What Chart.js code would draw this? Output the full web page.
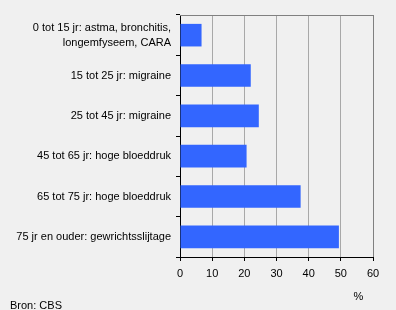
<!DOCTYPE html>
<html><head><meta charset="utf-8">
<script src="https://cdn.jsdelivr.net/npm/chart.js@4"></script>
<style>html,body{margin:0;padding:0;background:#f0f0f0;overflow:hidden}#wrap{width:396px;height:310px}</style>
</head><body><div id="wrap"><canvas id="c" width="396" height="310"></canvas></div>
<script>
const categories = [
  ["0 tot 15 jr: astma, bronchitis,", "longemfyseem, CARA"],
  "15 tot 25 jr: migraine",
  "25 tot 45 jr: migraine",
  "45 tot 65 jr: hoge bloeddruk",
  "65 tot 75 jr: hoge bloeddruk",
  "75 jr en ouder: gewrichtsslijtage"
];
const values = [6.7, 22.0, 24.5, 20.7, 37.5, 49.4];
const xTickValues = [0, 10, 20, 30, 40, 50, 60];
const unitLabel = "%";
const sourceLabel = "Bron: CBS";

const FONT = "'Liberation Sans', Arial, sans-serif";

const framePlugin = {
  id: 'frame',
  beforeDatasetsDraw(chart) {
    const {ctx, chartArea: a} = chart;
    ctx.save();
    ctx.strokeStyle = '#808080';
    ctx.lineWidth = 1;
    ctx.beginPath();
    ctx.moveTo(Math.round(a.left), Math.round(a.top) + 0.5);
    ctx.lineTo(Math.round(a.right) + 0.5, Math.round(a.top) + 0.5);
    ctx.lineTo(Math.round(a.right) + 0.5, Math.round(a.bottom));
    ctx.stroke();
    ctx.restore();
  },
  afterDraw(chart) {
    const {ctx} = chart;
    ctx.save();
    ctx.fillStyle = '#000';
    ctx.font = "11px " + FONT;
    ctx.textBaseline = 'middle';
    ctx.textAlign = 'center';
    ctx.fillText(unitLabel, 358.5, 297);
    ctx.textAlign = 'left';
    ctx.fillText(sourceLabel, 10, 305.5);
    ctx.restore();
  }
};

new Chart(document.getElementById('c'), {
  type: 'bar',
  data: {
    labels: categories,
    datasets: [{
      data: values,
      backgroundColor: '#3366ff',
      borderWidth: 0,
      barPercentage: 0.56,
      categoryPercentage: 1
    }]
  },
  options: {
    indexAxis: 'y',
    responsive: false,
    animation: false,
    devicePixelRatio: 1,
    layout: {padding: {top: 15, right: 23, left: 0, bottom: 0}},
    plugins: {legend: {display: false}, tooltip: {enabled: false}},
    scales: {
      x: {
        type: 'linear',
        min: 0, max: 60,
        afterBuildTicks(scale) { scale.ticks = xTickValues.map(v => ({value: v})); },
        afterFit(scale) { scale.height = 53; },
        grid: {
          color: (c) => c.tick && c.tick.value === 60 ? '#808080' : '#a8a8a8',
          tickColor: '#000',
          tickLength: 4,
          drawTicks: true
        },
        border: {color: '#000', width: 1},
        ticks: {color: '#000', font: {family: FONT, size: 11}, padding: 6, maxRotation: 0}
      },
      y: {
        afterFit(scale) { scale.width = 180; },
        grid: {
          drawOnChartArea: false,
          drawTicks: true,
          tickLength: 4,
          tickColor: '#000',
          offset: true
        },
        border: {color: '#000', width: 1},
        ticks: {color: '#000', font: {family: FONT, size: 11, lineHeight: 1.36}, padding: 5}
      }
    }
  },
  plugins: [framePlugin]
});
</script>
</body></html>
